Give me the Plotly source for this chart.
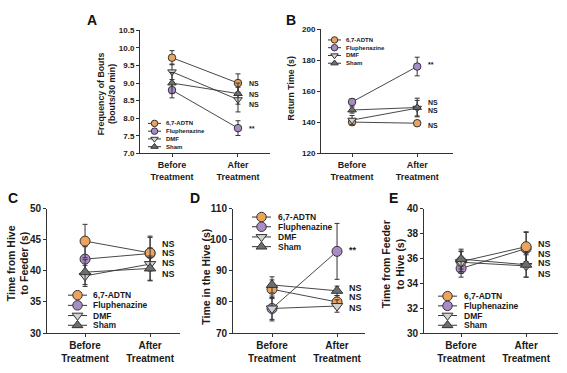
import plotly.graph_objects as go

W, H = 567, 373

# ---------------- data ----------------
SERIES = ["6,7-ADTN", "Fluphenazine", "DMF", "Sham"]
PHASE = [0, 1]
TICK_LABELS = ["Before<br>Treatment", "After<br>Treatment"]

# Panel A: Frequency of Bouts (bouts/30 min)
A_ADTN = [9.72, 9.00]; A_ADTN_ERR = [0.20, 0.26]
A_FLU = [8.80, 7.72]; A_FLU_ERR = [0.22, 0.21]
A_DMF = [9.32, 8.53]; A_DMF_ERR = [0.22, 0.35]
A_SHAM = [9.00, 8.70]; A_SHAM_ERR = [0.30, 0.30]
A_SIG = ["NS", "NS", "NS", "**"]; A_SIG_Y = [9.00, 8.68, 8.39, 7.72]
A_TICKS = [7.0, 7.5, 8.0, 8.5, 9.0, 9.5, 10.0, 10.5]

# Panel B: Return Time (s)
B_ADTN = [140.2, 139.5]; B_ADTN_ERR = [2.0, 1.5]
B_FLU = [153.2, 176.0]; B_FLU_ERR = [2.0, 6.0]
B_DMF = [141.5, 149.2]; B_DMF_ERR = [3.0, 5.0]
B_SHAM = [148.0, 149.6]; B_SHAM_ERR = [2.0, 6.0]
B_SIG = ["**", "NS", "NS", "NS"]; B_SIG_Y = [177.0, 153.0, 147.4, 137.8]
B_TICKS = [120, 140, 160, 180, 200]

# Panel C: Time from Hive to Feeder (s)
C_ADTN = [44.8, 42.9]; C_ADTN_ERR = [2.7, 2.5]
C_FLU = [41.9, 42.8]; C_FLU_ERR = [2.0, 2.8]
C_DMF = [39.2, 41.1]; C_DMF_ERR = [1.7, 2.6]
C_SHAM = [39.8, 40.4]; C_SHAM_ERR = [2.0, 2.0]
C_SIG = ["NS", "NS", "NS", "NS"]; C_SIG_Y = [44.4, 42.85, 41.3, 39.5]
C_TICKS = [30, 35, 40, 45, 50]

# Panel D: Time in the Hive (s)
D_ADTN = [84.1, 80.0]; D_ADTN_ERR = [3.0, 2.0]
D_FLU = [77.9, 96.3]; D_FLU_ERR = [3.5, 9.0]
D_DMF = [77.9, 78.7]; D_DMF_ERR = [4.0, 2.0]
D_SHAM = [85.5, 83.6]; D_SHAM_ERR = [2.6, 1.5]
D_SIG = ["**", "NS", "NS", "NS"]; D_SIG_Y = [96.7, 84.4, 81.5, 78.1]
D_TICKS = [70, 80, 90, 100, 110]

# Panel E: Time from Feeder to Hive (s)
E_ADTN = [35.75, 36.95]; E_ADTN_ERR = [0.8, 1.2]
E_FLU = [35.2, 36.8]; E_FLU_ERR = [0.7, 1.3]
E_DMF = [35.7, 35.4]; E_DMF_ERR = [0.9, 0.9]
E_SHAM = [35.95, 35.5]; E_SHAM_ERR = [0.8, 1.0]
E_SIG = ["NS", "NS", "NS", "NS"]; E_SIG_Y = [37.2, 36.4, 35.6, 34.75]
E_TICKS = [30, 32, 34, 36, 38, 40]

# ---------------- styles ----------------
FONT = "Arial, Liberation Sans, sans-serif"
INK = "#333333"
TXT = "#1a1a1a"
STYLE = {
    "6,7-ADTN": ("circle", "#EBA35E"),
    "Fluphenazine": ("circle", "#A98BC8"),
    "DMF": ("triangle-down", "#D2D2D2"),
    "Sham": ("triangle-up", "#6E6E6E"),
}
DRAW_ORDER = ["Fluphenazine", "6,7-ADTN", "DMF", "Sham"]


def px_x(x0, x1):
    return [x0 / W, x1 / W]


def px_y(top, bottom):
    return [(H - bottom) / H, (H - top) / H]


panels = [
    dict(key="A", data={"6,7-ADTN": (A_ADTN, A_ADTN_ERR), "Fluphenazine": (A_FLU, A_FLU_ERR),
                        "DMF": (A_DMF, A_DMF_ERR), "Sham": (A_SHAM, A_SHAM_ERR)},
         sig=(A_SIG, A_SIG_Y), ticks=A_TICKS, fmt=".1f", yr=[7.0, 10.5],
         xd=px_x(140, 270), yd=px_y(26, 153), xr=[-0.485, 1.485],
         title="Frequency of Bouts<br>(bouts/30 min)", tpos=(106, 92), tsize=8.8,
         letter=(92, 15), small=True,
         leg=dict(x0=148, x1=161, tx=164, y=[122, 130, 138, 146])),
    dict(key="B", data={"6,7-ADTN": (B_ADTN, B_ADTN_ERR), "Fluphenazine": (B_FLU, B_FLU_ERR),
                        "DMF": (B_DMF, B_DMF_ERR), "Sham": (B_SHAM, B_SHAM_ERR)},
         sig=(B_SIG, B_SIG_Y), ticks=B_TICKS, fmt="d", yr=[120, 200],
         xd=px_x(321, 453), yd=px_y(25, 153), xr=[-0.477, 1.55],
         title="Return Time (s)", tpos=(291, 86), tsize=8.8,
         letter=(291, 15), small=True,
         leg=dict(x0=328, x1=341, tx=344, y=[36, 44, 52, 60])),
    dict(key="C", data={"6,7-ADTN": (C_ADTN, C_ADTN_ERR), "Fluphenazine": (C_FLU, C_FLU_ERR),
                        "DMF": (C_DMF, C_DMF_ERR), "Sham": (C_SHAM, C_SHAM_ERR)},
         sig=(C_SIG, C_SIG_Y), ticks=C_TICKS, fmt="d", yr=[30, 50],
         xd=px_x(47, 180), yd=px_y(210, 338), xr=[-0.585, 1.46],
         title="Time from Hive<br>to Feeder (s)", tpos=(18, 266), tsize=10.5,
         letter=(13, 199), small=False,
         leg=dict(x0=68, x1=87, tx=91, y=[299, 309.5, 320, 330])),
    dict(key="D", data={"6,7-ADTN": (D_ADTN, D_ADTN_ERR), "Fluphenazine": (D_FLU, D_FLU_ERR),
                        "DMF": (D_DMF, D_DMF_ERR), "Sham": (D_SHAM, D_SHAM_ERR)},
         sig=(D_SIG, D_SIG_Y), ticks=D_TICKS, fmt="d", yr=[70, 110],
         xd=px_x(233, 365), yd=px_y(210, 338), xr=[-0.6, 1.43],
         title="Time in the Hive (s)", tpos=(206, 280), tsize=10.5,
         letter=(195, 199), small=False,
         leg=dict(x0=252, x1=271, tx=276, y=[218.5, 228.5, 239, 249])),
    dict(key="E", data={"6,7-ADTN": (E_ADTN, E_ADTN_ERR), "Fluphenazine": (E_FLU, E_FLU_ERR),
                        "DMF": (E_DMF, E_DMF_ERR), "Sham": (E_SHAM, E_SHAM_ERR)},
         sig=(E_SIG, E_SIG_Y), ticks=E_TICKS, fmt="d", yr=[30, 40],
         xd=px_x(424, 558), yd=px_y(210, 338), xr=[-0.57, 1.49],
         title="Time from Feeder<br>to Hive (s)", tpos=(393, 267), tsize=10.5,
         letter=(393, 199), small=False,
         leg=dict(x0=438, x1=457, tx=462, y=[300, 310, 320, 330])),
]

fig = go.Figure()
annotations = []
layout = {}

for i, p in enumerate(panels, start=1):
    xa = "x" if i == 1 else f"x{i}"
    ya = "y" if i == 1 else f"y{i}"
    xkey = "xaxis" if i == 1 else f"xaxis{i}"
    ykey = "yaxis" if i == 1 else f"yaxis{i}"
    msize = 7.5 if p["small"] else 10
    for name in DRAW_ORDER:
        vals, errs = p["data"][name]
        sym, col = STYLE[name]
        fig.add_trace(go.Scatter(
            x=PHASE, y=vals, xaxis=xa, yaxis=ya, mode="lines+markers",
            name=name, showlegend=False,
            line=dict(color=INK, width=0.9),
            marker=dict(symbol=sym, size=msize, color=col, line=dict(color=INK, width=1)),
            error_y=dict(type="data", array=errs, visible=True, color=INK,
                         thickness=1, width=2.5),
        ))
    tick_font = 8 if p["small"] else 10
    xt_font = 9 if p["small"] else 10
    layout[xkey] = dict(
        domain=p["xd"], anchor=ya, range=p["xr"], tickmode="array",
        tickvals=PHASE, ticktext=TICK_LABELS, showline=True, linecolor=INK,
        linewidth=1, ticks="outside", ticklen=3, tickcolor=INK, showgrid=False,
        zeroline=False, tickfont=dict(family=FONT, size=xt_font, color=TXT, weight="bold"),
        fixedrange=True,
    )
    layout[ykey] = dict(
        domain=p["yd"], anchor=xa, range=p["yr"], tickmode="array",
        tickvals=p["ticks"], tickformat=p["fmt"], showline=True, linecolor=INK,
        linewidth=1, ticks="outside", ticklen=3, tickcolor=INK, showgrid=False,
        zeroline=False, tickfont=dict(family=FONT, size=tick_font, color=TXT, weight="bold"),
        fixedrange=True,
    )
    # significance labels
    sig_txt, sig_y = p["sig"]
    for t, yv in zip(sig_txt, sig_y):
        annotations.append(dict(
            x=1, y=yv, xref=xa, yref=ya, text=t, showarrow=False,
            xanchor="left", yanchor="middle", xshift=9 if p["small"] else 10,
            font=dict(family=FONT, size=7 if p["small"] else 9, color=TXT, weight="bold"),
        ))
    # y-axis title
    annotations.append(dict(
        x=p["tpos"][0] / W, y=1 - p["tpos"][1] / H, xref="paper", yref="paper",
        text=p["title"], textangle=-90, showarrow=False, xanchor="center",
        yanchor="middle", font=dict(family=FONT, size=p["tsize"], color=TXT, weight="bold"),
    ))
    # panel letter
    annotations.append(dict(
        x=p["letter"][0] / W, y=1 - p["letter"][1] / H, xref="paper", yref="paper",
        text=p["key"], showarrow=False, xanchor="center", yanchor="middle",
        font=dict(family=FONT, size=14, color="#111", weight="bold"),
    ))

# ---------------- manual legends (pixel overlay axis) ----------------
LX, LY = "x6", "y6"
layout["xaxis6"] = dict(domain=[0, 1], range=[0, W], visible=False, anchor=LY, fixedrange=True)
layout["yaxis6"] = dict(domain=[0, 1], range=[H, 0], visible=False, anchor=LX, fixedrange=True)

for p in panels:
    lg = p["leg"]
    msize = 6.5 if p["small"] else 9.5
    for name, ly in zip(SERIES, lg["y"]):
        sym, col = STYLE[name]
        xm = (lg["x0"] + lg["x1"]) / 2
        fig.add_trace(go.Scatter(
            x=[lg["x0"], xm, lg["x1"]], y=[ly, ly, ly], xaxis=LX, yaxis=LY,
            mode="lines+markers", showlegend=False, hoverinfo="skip",
            line=dict(color=INK, width=1),
            marker=dict(symbol=sym, size=[0, msize, 0], opacity=[0, 1, 0], color=col,
                        line=dict(color=INK, width=1)),
        ))
        annotations.append(dict(
            x=lg["tx"], y=ly, xref=LX, yref=LY, text=name, showarrow=False,
            xanchor="left", yanchor="middle",
            font=dict(family=FONT, size=6 if p["small"] else 8.5, color=TXT, weight="bold"),
        ))

fig.update_layout(
    width=W, height=H, margin=dict(l=0, r=0, t=0, b=0),
    paper_bgcolor="white", plot_bgcolor="rgba(0,0,0,0)",
    showlegend=False, annotations=annotations, **layout,
)

fig.write_html("out.html", config={"displayModeBar": False, "staticPlot": True},
               post_script="document.body.style.margin='0';")
